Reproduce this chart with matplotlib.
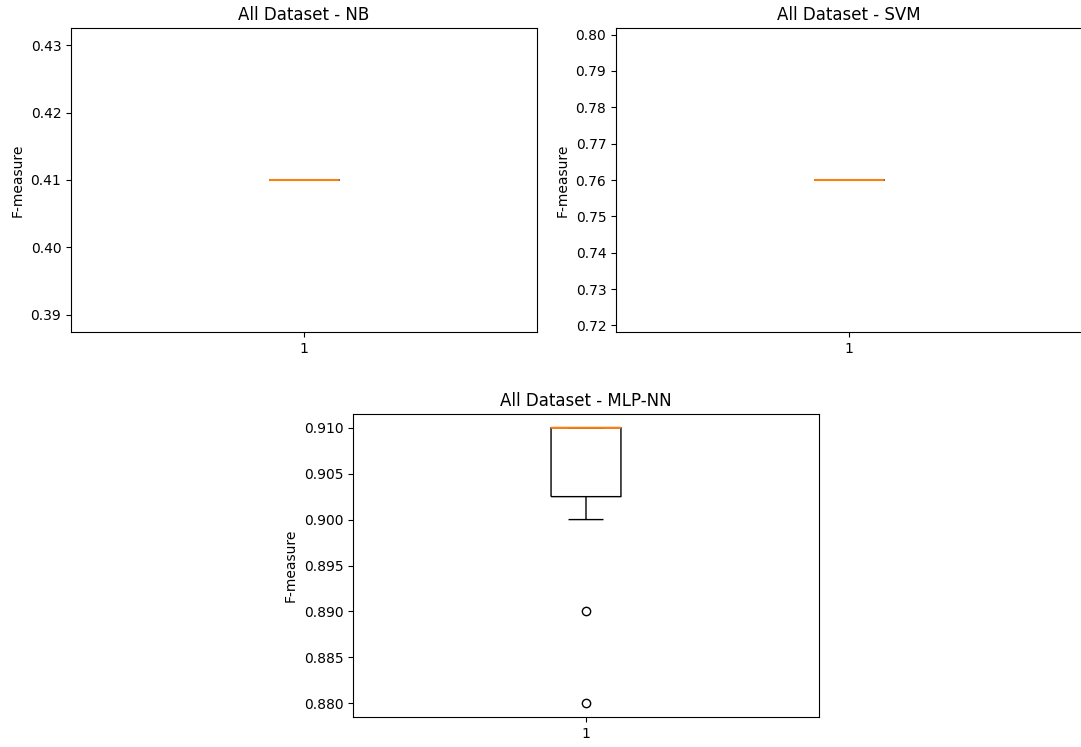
import matplotlib
matplotlib.use("Agg")
import matplotlib.pyplot as plt

# F-measure scores per classifier over the runs on the full dataset
nb_scores = [0.41, 0.41, 0.41, 0.41, 0.41, 0.41, 0.41, 0.41, 0.41, 0.41]
svm_scores = [0.76, 0.76, 0.76, 0.76, 0.76, 0.76, 0.76, 0.76, 0.76, 0.76]
mlp_scores = [0.88, 0.89, 0.90, 0.91, 0.91, 0.91, 0.91, 0.91, 0.91, 0.91]

titles = ["All Dataset - NB", "All Dataset - SVM", "All Dataset - MLP-NN"]
series = [nb_scores, svm_scores, mlp_scores]

W, H = 1081, 747
fig = plt.figure(figsize=(W / 100, H / 100), dpi=100)


def px_axes(x0, y0, x1, y1):
    return fig.add_axes([x0 / W, 1 - y1 / H, (x1 - x0) / W, (y1 - y0) / H])


boxes = [
    (71, 28, 537, 332),
    (616, 28, 1082, 332),
    (353, 414, 819, 717),
]

line_kw = dict(solid_capstyle="butt", linewidth=1.0)
for (x0, y0, x1, y1), title, data in zip(boxes, titles, series):
    ax = px_axes(x0, y0, x1, y1)
    bp = ax.boxplot(
        data,
        boxprops=line_kw,
        whiskerprops=line_kw,
        capprops=line_kw,
        medianprops=dict(zorder=5, linewidth=1.5, solid_capstyle="butt"),
    )
    for key in ("boxes", "whiskers", "caps", "medians"):
        for artist in bp[key]:
            artist.set_snap(False)
    ax.set_title(title, fontsize=12)
    ax.set_ylabel("F-measure")

fig.savefig("out.png", dpi=100)
